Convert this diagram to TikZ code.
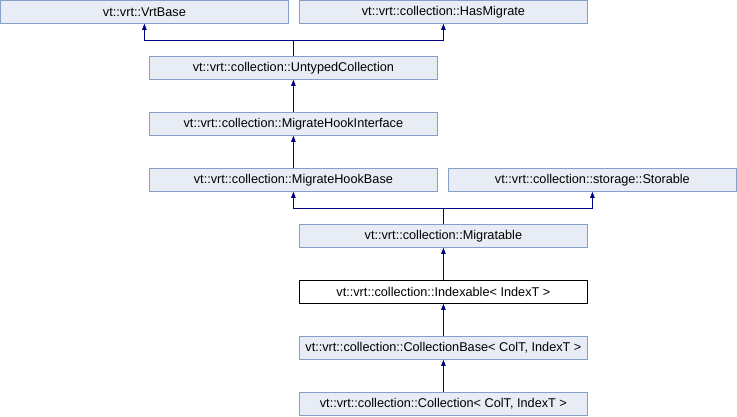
\documentclass[tikz,border=0pt]{standalone}
\usepackage{fontspec}
\setmainfont{Liberation Sans}
\usetikzlibrary{arrows.meta}
\definecolor{boxfill}{RGB}{232,236,244}
\definecolor{boxline}{RGB}{132,160,200}
\definecolor{inhline}{RGB}{0,0,128}

\begin{document}
\begin{tikzpicture}[x=1pt,y=-1pt,
  cls/.style={draw=boxline,fill=boxfill,line width=0.8pt,minimum width=288pt,
    minimum height=23pt,inner sep=0pt,anchor=north west,font=\fontsize{12.7}{14}\selectfont},
  cur/.style={cls,draw=black,fill=white},
  link/.style={draw=inhline,line width=0.8pt},
  inh/.style={link,-{Triangle[width=4.5pt,length=6pt]}}]
\useasboundingbox (0,0) rectangle (737,416);
% class boxes, one per row
\foreach \nm/\st/\x/\y/\lab in {%
  vrtbase/cls/0/0/{vt::vrt::VrtBase},
  hasmigrate/cls/299/0/{vt::vrt::collection::HasMigrate},
  untyped/cls/149/56/{vt::vrt::collection::UntypedCollection},
  hookiface/cls/149/112/{vt::vrt::collection::MigrateHookInterface},
  hookbase/cls/149/168/{vt::vrt::collection::MigrateHookBase},
  storable/cls/448/168/{vt::vrt::collection::storage::Storable},
  migratable/cls/299/224/{vt::vrt::collection::Migratable},
  indexable/cur/299/280/{vt::vrt::collection::Indexable< IndexT >},
  collbase/cls/299/336/{vt::vrt::collection::CollectionBase< ColT, IndexT >},
  coll/cls/299/392/{vt::vrt::collection::Collection< ColT, IndexT >}} {
  \node[\st] (\nm) at (\x,\y) {\lab};
}
% inheritance links
\path (untyped.north) ++(0,-16) coordinate (j1);
\draw[link] (untyped.north) -- (j1);
\draw[inh] (j1) -| (vrtbase.south);
\draw[inh] (j1) -| (hasmigrate.south);
\draw[inh] (hookiface.north) -- (untyped.south);
\draw[inh] (hookbase.north) -- (hookiface.south);
\path (migratable.north) ++(0,-16) coordinate (j2);
\draw[link] (migratable.north) -- (j2);
\draw[inh] (j2) -| (hookbase.south);
\draw[inh] (j2) -| (storable.south);
\draw[inh] (indexable.north) -- (migratable.south);
\draw[inh] (collbase.north) -- (indexable.south);
\draw[inh] (coll.north) -- (collbase.south);
\end{tikzpicture}
\end{document}
